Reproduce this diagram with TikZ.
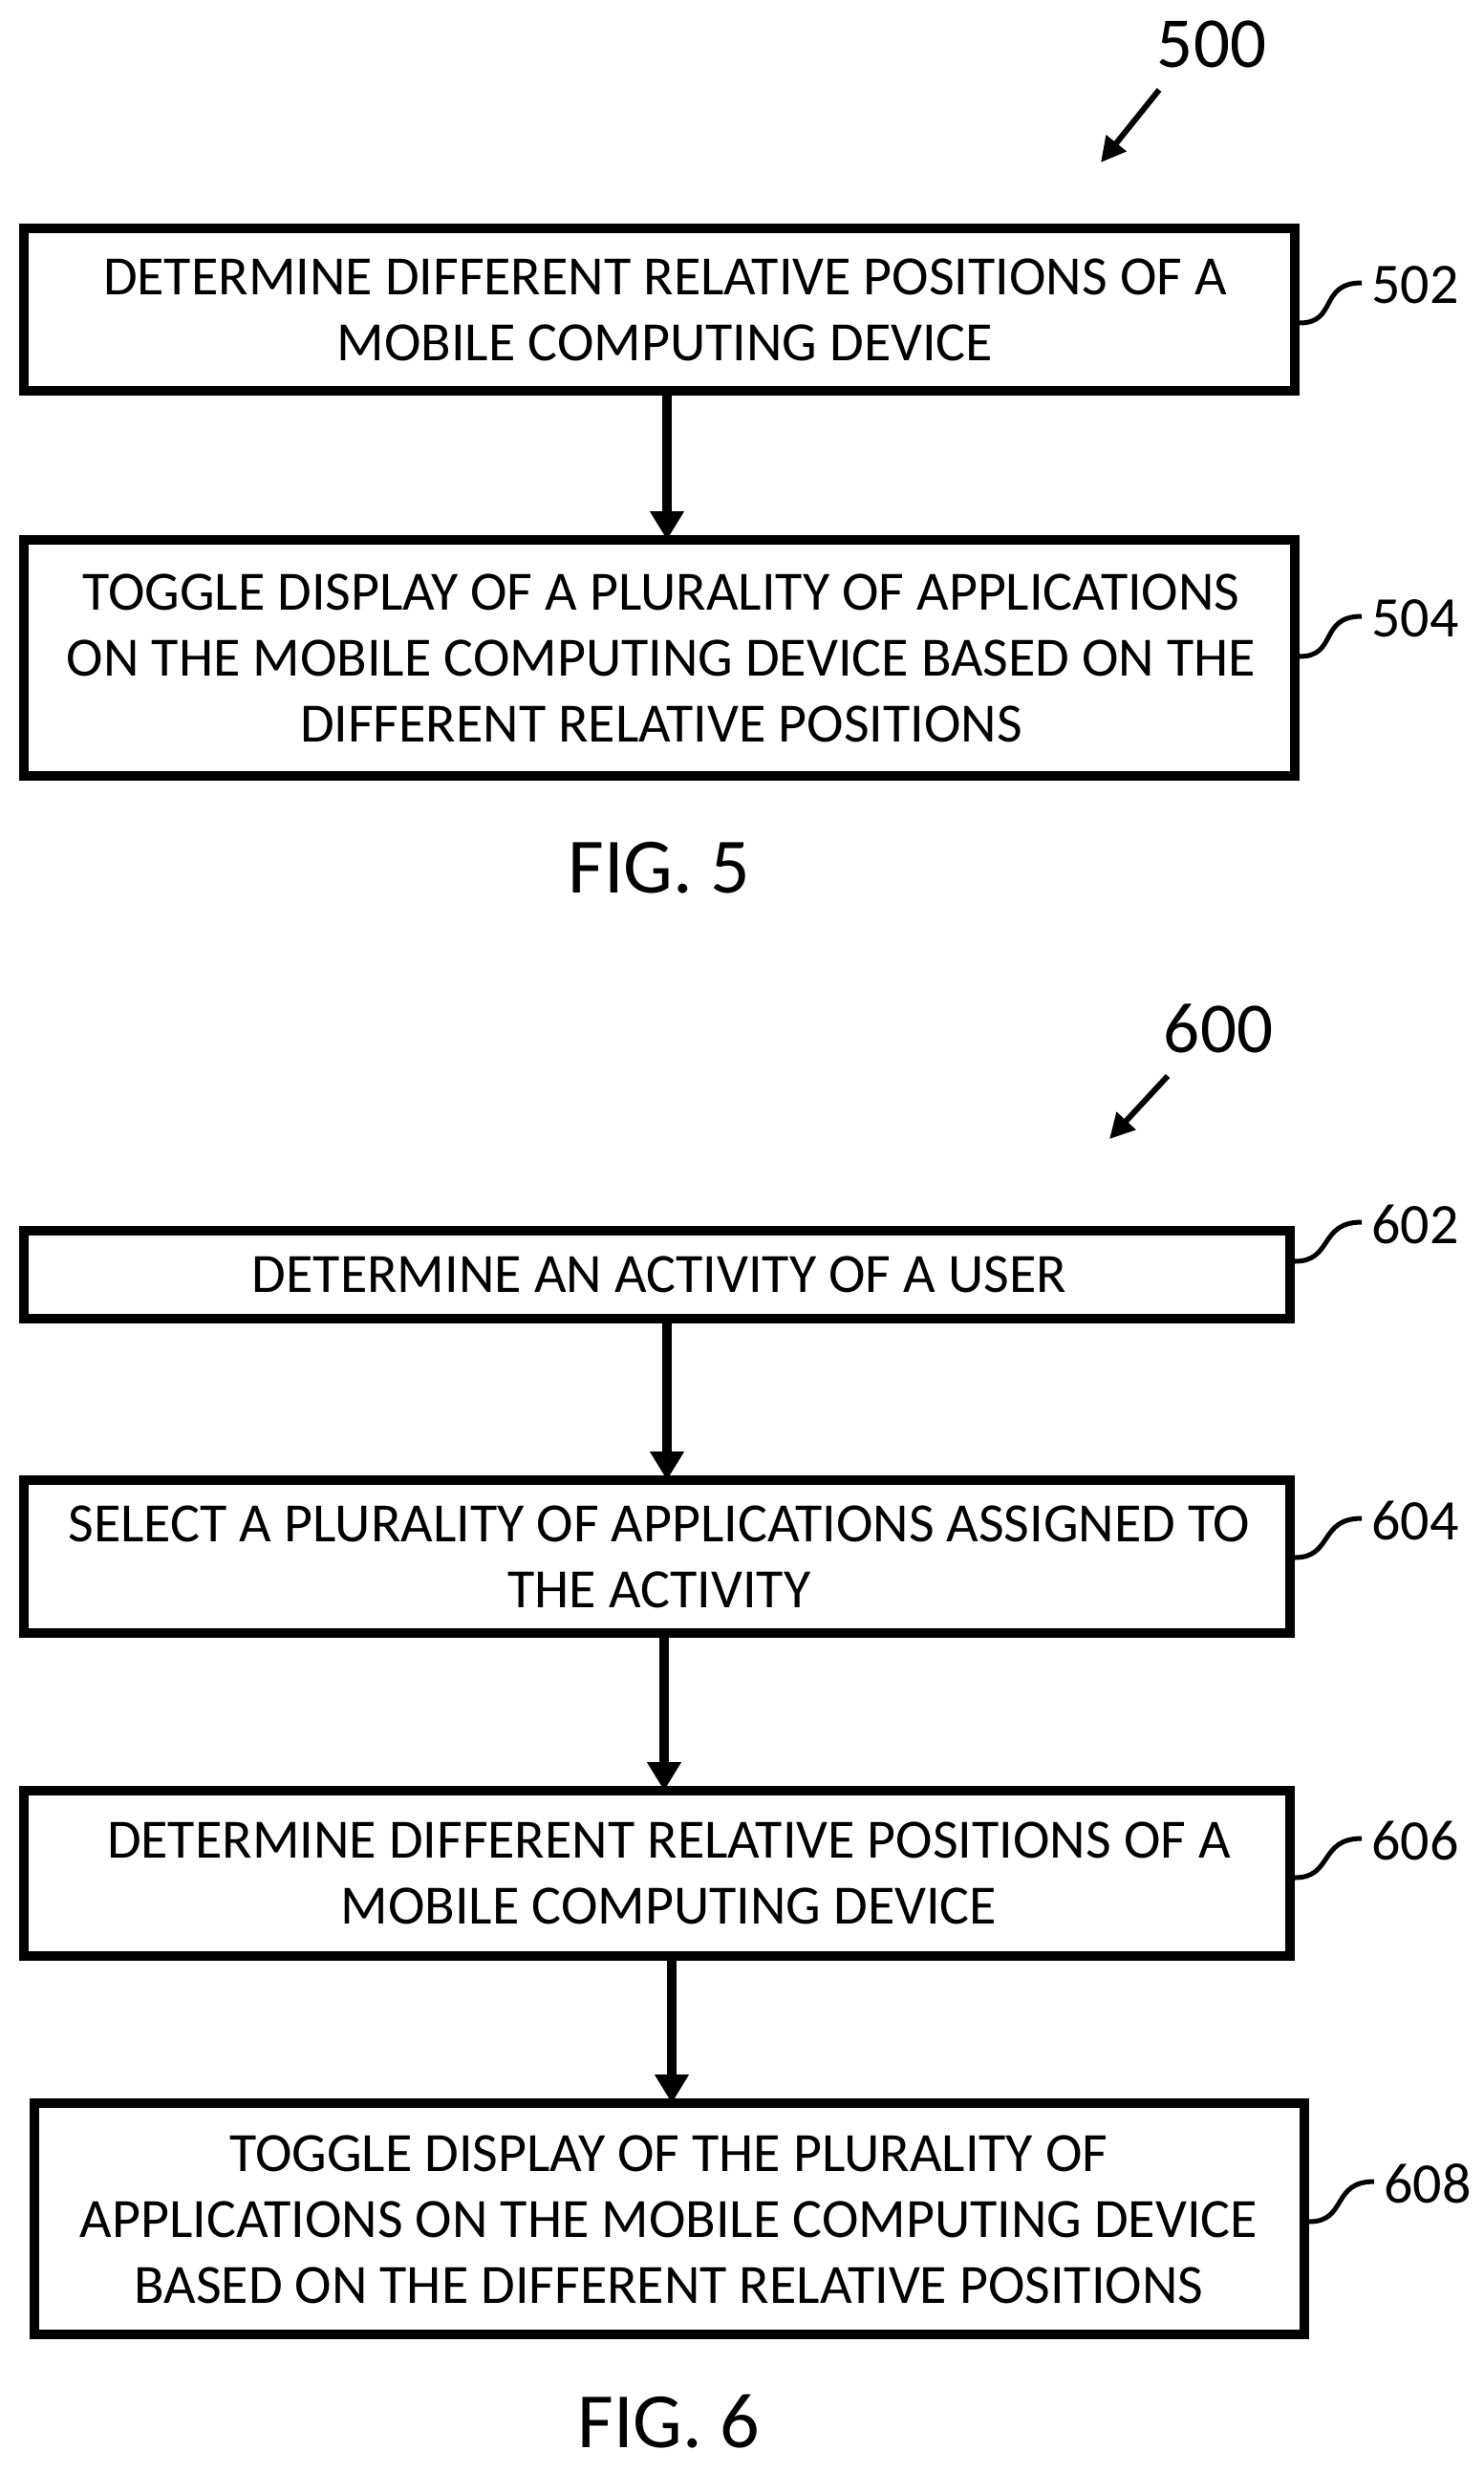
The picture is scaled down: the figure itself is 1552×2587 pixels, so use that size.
\documentclass[tikz,border=0pt]{standalone}
\usepackage{fontspec}
\setmainfont{Carlito}
\usetikzlibrary{arrows.meta}
\begin{document}
\begin{tikzpicture}[x=1pt,y=-1pt,
  box/.style={draw,line width=10pt},
  txt/.style={align=center,font=\fontsize{58}{69}\selectfont},
  flow/.style={line width=10pt,-{Triangle[length=30pt,width=34pt]}},
  lead/.style={line width=5pt},
  num/.style={font=\fontsize{60}{62}\selectfont,anchor=west},
  big/.style={font=\fontsize{75}{78}\selectfont},
  fig/.style={font=\fontsize{82}{86}\selectfont}]
\useasboundingbox (0,0) rectangle (1552,2587);
% FIG 5
\node[big] (n500) at (1268,46) {500};
\coordinate (a500s) at (1213,94); \coordinate (a500e) at (1152,170);
\draw[line width=6pt,-{Triangle[length=26pt,width=26pt]}] (a500s) -- (a500e);
\draw[box] (25,239) rectangle (1355,409);
\node[txt] (b502) at (696,324) {DETERMINE DIFFERENT RELATIVE POSITIONS OF A\\MOBILE COMPUTING DEVICE};
\draw[box] (25,565) rectangle (1355,812);
\node[txt] (b504) at (692,689) {TOGGLE DISPLAY OF A PLURALITY OF APPLICATIONS\\ON THE MOBILE COMPUTING DEVICE BASED ON THE\\DIFFERENT RELATIVE POSITIONS};
\coordinate (t502) at (698,409); \coordinate (t504) at (698,565);
\draw[flow] (t502) -- (t504);
\node[fig] (f5) at (690,908) {FIG. 5};
\node[num] (l502) at (1432,298) {502};
\node[num] (l504) at (1432,647) {504};
\draw[lead] (1360,338) .. controls (1400,338) and (1380,296) .. (1425,296);
\draw[lead] (1360,687) .. controls (1400,687) and (1380,645) .. (1425,645);
% FIG 6
\node[big] (n600) at (1275,1076) {600};
\coordinate (a600s) at (1222,1126); \coordinate (a600e) at (1161,1192);
\draw[line width=6pt,-{Triangle[length=26pt,width=26pt]}] (a600s) -- (a600e);
\draw[box] (25,1288) rectangle (1350,1380);
\node[txt] (b602) at (690,1334) {DETERMINE AN ACTIVITY OF A USER};
\draw[box] (25,1549) rectangle (1350,1709);
\node[txt] (b604) at (690,1629) {SELECT A PLURALITY OF APPLICATIONS ASSIGNED TO\\THE ACTIVITY};
\draw[box] (25,1874) rectangle (1350,2047);
\node[txt] (b606) at (700,1960) {DETERMINE DIFFERENT RELATIVE POSITIONS OF A\\MOBILE COMPUTING DEVICE};
\draw[box] (36,2201) rectangle (1365,2443);
\node[txt] (b608) at (700,2323) {TOGGLE DISPLAY OF THE PLURALITY OF\\APPLICATIONS ON THE MOBILE COMPUTING DEVICE\\BASED ON THE DIFFERENT RELATIVE POSITIONS};
\draw[flow] (698,1380) -- (698,1549);
\draw[flow] (695,1709) -- (695,1874);
\draw[flow] (703,2047) -- (703,2201);
\node[fig] (f6) at (700,2534) {FIG. 6};
\node[num] (l602) at (1432,1281) {602};
\node[num] (l604) at (1432,1591) {604};
\node[num] (l606) at (1432,1926) {606};
\node[num] (l608) at (1445,2285) {608};
\draw[lead] (1355,1320) .. controls (1395,1320) and (1380,1279) .. (1425,1279);
\draw[lead] (1355,1630) .. controls (1395,1630) and (1380,1589) .. (1425,1589);
\draw[lead] (1355,1965) .. controls (1395,1965) and (1380,1924) .. (1425,1924);
\draw[lead] (1370,2325) .. controls (1410,2325) and (1393,2283) .. (1438,2283);
\end{tikzpicture}
\end{document}
